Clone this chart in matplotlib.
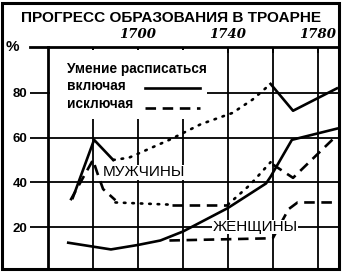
import numpy as np
import matplotlib
matplotlib.use("Agg")
from matplotlib import pyplot as plt
from matplotlib.lines import Line2D
from matplotlib.patches import Rectangle

# data (years, % able to sign)
men_incl_years = [1671, 1680.5, 1689]
men_incl_vals = [33, 59, 50]
men_incl_gap_years = [1689, 1696, 1705, 1714, 1728, 1742, 1751, 1759]
men_incl_gap_vals = [50, 51, 55, 59, 66, 71, 77, 84]
men_incl_late_years = [1759, 1769, 1788.5]
men_incl_late_vals = [84, 72, 82]

men_excl_years = [1670, 1680, 1682, 1684.5, 1690]
men_excl_vals = [32, 50, 44, 37, 32]
men_excl_gap1_years = [1690, 1715]
men_excl_gap1_vals = [31, 30]
men_excl_mid_years = [1715, 1740]
men_excl_mid_vals = [30, 30]
men_excl_gap2_years = [1740, 1750, 1759]
men_excl_gap2_vals = [30, 39, 49]
men_excl_late_years = [1760, 1769, 1788.5]
men_excl_late_vals = [48, 42, 61]

women_incl_years = [1669, 1688, 1700, 1710, 1720, 1740, 1757, 1759, 1768.5, 1788.5]
women_incl_vals = [13, 10, 12, 14, 18, 28.5, 39.5, 42.5, 59, 64]

women_excl_years = [1714, 1760, 1767, 1771, 1788.5]
women_excl_vals = [14, 15, 28, 31, 31]

y_ticks = [20, 40, 60, 80]
y_labels = ['20', '40', '60', '80']
x_ticks = [1680, 1700, 1720, 1740, 1760, 1780]
x_labels = ['', '1700', '', '1740', '', '1780']

W, H = 345, 272
def fx(px):
    return px / W
def fy(py):
    return 1 - py / H

fig = plt.figure(figsize=(W / 100, H / 100), dpi=100)
fig.patch.set_facecolor('white')

# outer frame of the scanned figure
fig.add_artist(Rectangle((fx(2), fy(269)), 337 / W, 266 / H, transform=fig.transFigure,
                         fill=False, lw=2.2, ec='black'))

ax = fig.add_axes([fx(48), fy(268), 290 / W, 221 / H])
ax.set_xlim(1660, 1789)
ax.set_ylim(1.7, 100.5)

lw = 1.9
dash = (0, (4, 2.5))
dots = (0, (0.6, 2.6))
ax.plot(men_incl_years, men_incl_vals, color='black', lw=lw)
ax.plot(men_incl_gap_years, men_incl_gap_vals, color='black', lw=lw, ls=dots,
        dash_capstyle='round')
ax.plot(men_incl_late_years, men_incl_late_vals, color='black', lw=lw)

ax.plot(men_excl_years, men_excl_vals, color='black', lw=lw, ls=dash)
ax.plot(men_excl_gap1_years, men_excl_gap1_vals, color='black', lw=lw, ls=dots,
        dash_capstyle='round')
ax.plot(men_excl_mid_years, men_excl_mid_vals, color='black', lw=lw, ls=dash)
ax.plot(men_excl_gap2_years, men_excl_gap2_vals, color='black', lw=lw, ls=dots,
        dash_capstyle='round')
ax.plot(men_excl_late_years, men_excl_late_vals, color='black', lw=lw, ls=dash)

ax.plot(women_incl_years, women_incl_vals, color='black', lw=lw)
ax.plot(women_excl_years, women_excl_vals, color='black', lw=lw, ls=dash)

# grid
for v in y_ticks:
    ax.axhline(v, color='black', lw=1.3, zorder=0)
for v in x_ticks:
    ax.axvline(v, color='black', lw=1.3, zorder=0)

for s in ['left', 'top']:
    ax.spines[s].set_linewidth(2)
ax.spines['right'].set_visible(False)
ax.spines['bottom'].set_visible(False)

ax.set_yticks(y_ticks)
ax.set_yticklabels(y_labels, fontsize=9.5, fontweight='bold', family='Liberation Sans')
ax.tick_params(axis='y', direction='out', length=13, width=1.3, pad=2)

ax.xaxis.tick_top()
ax.set_xticks(x_ticks)
ax.set_xticklabels(x_labels, fontsize=9.5, fontstyle='italic', fontweight='bold',
                   family='DejaVu Serif')
ax.tick_params(axis='x', direction='in', length=4, width=1.3, pad=4)

# top axis line continues to the left of the frame
ax.plot([1652, 1660], [100.5, 100.5], color='black', lw=2, clip_on=False)
fig.text(fx(12), fy(47), '%', fontsize=11, fontweight='bold', family='Liberation Sans',
         ha='center', va='center')

title = fig.text(fx(171), fy(18), 'ПРОГРЕСС ОБРАЗОВАНИЯ В ТРОАРНЕ', ha='center', va='center',
                 fontsize=12, fontweight='bold', family='Liberation Sans')
# shrink the title until it spans about 300 px like the scan
renderer = fig.canvas.get_renderer()
w = title.get_window_extent(renderer).width
title.set_fontsize(12 * 300 / w)

# legend block, white patch hides the grid behind it
fig.add_artist(Rectangle((fx(50), fy(119)), 157 / W, 69 / H, transform=fig.transFigure,
                         fc='white', ec='none', zorder=3))
fig.text(fx(67), fy(69), 'Умение расписаться', fontsize=9.8, family='Liberation Sans',
         fontweight='bold', ha='left', va='center', zorder=4)
fig.text(fx(67), fy(86), 'включая', fontsize=9.8, family='Liberation Sans',
         fontweight='bold', ha='left', va='center', zorder=4)
fig.text(fx(67), fy(104), 'исключая', fontsize=9.8, family='Liberation Sans',
         fontweight='bold', ha='left', va='center', zorder=4)
fig.add_artist(Line2D([fx(145), fx(200)], [fy(88), fy(88)], color='black', lw=lw,
                      transform=fig.transFigure, zorder=4))
fig.add_artist(Line2D([fx(145), fx(200)], [fy(108), fy(108)], color='black', lw=lw, ls=dash,
                      transform=fig.transFigure, zorder=4))

ax.text(1684.5, 44.5, 'МУЖЧИНЫ', fontsize=11, family='Liberation Sans', ha='left', va='center',
        bbox=dict(fc='white', ec='none', pad=0.2))
ax.text(1752, 20, 'ЖЕНЩИНЫ', fontsize=11, family='Liberation Sans', ha='center', va='center',
        bbox=dict(fc='white', ec='none', pad=0.2))

fig.savefig('out.png', dpi=100, facecolor='white')
